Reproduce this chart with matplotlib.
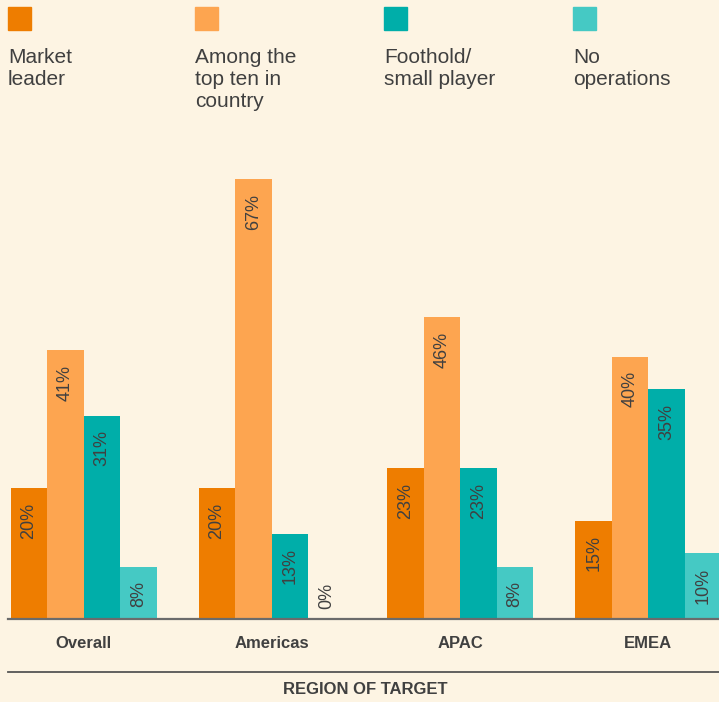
import numpy as np
import matplotlib.pyplot as plt
from matplotlib.patches import Rectangle

# Share of deals by market position of the target, per region
regions = ["Overall", "Americas", "APAC", "EMEA"]
series_names = ["Market\nleader", "Among the\ntop ten in\ncountry", "Foothold/\nsmall player", "No\noperations"]
market_leader = [20, 20, 23, 15]
top_ten = [41, 67, 46, 40]
foothold = [31, 13, 23, 35]
no_operations = [8, 0, 8, 10]

colors = ["#EE7D00", "#FDA550", "#00AEA9", "#45C9C4"]
bg = "#FDF4E3"
txt = "#404040"

plt.rcParams['font.family'] = ['Liberation Sans', 'DejaVu Sans']

W, H = 719, 702
fig = plt.figure(figsize=(W / 100, H / 100), dpi=100, facecolor=bg)

# axes: baseline at y=619px, top at 170px, full width
base_px = 619
top_px = 170
ax = fig.add_axes([0, (H - base_px) / H, 1, (base_px - top_px) / H])
ax.set_facecolor(bg)
px_per_pct = 6.56
ax.set_ylim(0, (base_px - top_px) / px_per_pct)

spacing = 188.3
x = np.arange(len(regions))
width = 36.5 / spacing
ax.set_xlim((0 - 83.5) / spacing, (W - 83.5) / spacing)

data = [market_leader, top_ten, foothold, no_operations]
for i, vals in enumerate(data):
    xs = x + (i - 1.5) * width
    ax.bar(xs, vals, width=width, color=colors[i], zorder=2)
    for xi, v in zip(xs, vals):
        if v > 0:
            ax.annotate(f"{v}%", (xi, v), xytext=(0, -10.5), textcoords="offset points",
                        rotation=90, ha="center", va="top", fontsize=13, color=txt, zorder=3)
        else:
            ax.annotate(f"{v}%", (xi, v), xytext=(0, 7), textcoords="offset points",
                        rotation=90, ha="center", va="bottom", fontsize=13, color=txt, zorder=3)

for s in ax.spines.values():
    s.set_visible(False)
ax.set_yticks([])
ax.set_xticks(x)
ax.set_xticklabels(regions, fontsize=12, fontweight="bold", color=txt)
ax.tick_params(axis="x", length=0, pad=12)

# baseline and the rule above the axis title
fig.add_artist(plt.Line2D([8 / W, 1], [(H - 619) / H] * 2, color="#6b6b6b", lw=1.6, zorder=1))
fig.add_artist(plt.Line2D([8 / W, 1], [(H - 672) / H] * 2, color="#555555", lw=1.3))
fig.text(365 / W, (H - 689) / H, "REGION OF TARGET", ha="center", va="center",
         fontsize=12, fontweight="bold", color=txt)

# legend: square with the label underneath
legend_x = [8, 195, 384, 573]
for lx, name, c in zip(legend_x, series_names, colors):
    fig.add_artist(Rectangle((lx / W, (H - 30) / H), 23 / W, 23 / H, color=c,
                             transform=fig.transFigure))
    fig.text(lx / W, (H - 48) / H, name, ha="left", va="top", fontsize=15,
             color=txt, linespacing=1.2)

fig.savefig("out.png", dpi=100, facecolor=bg)
